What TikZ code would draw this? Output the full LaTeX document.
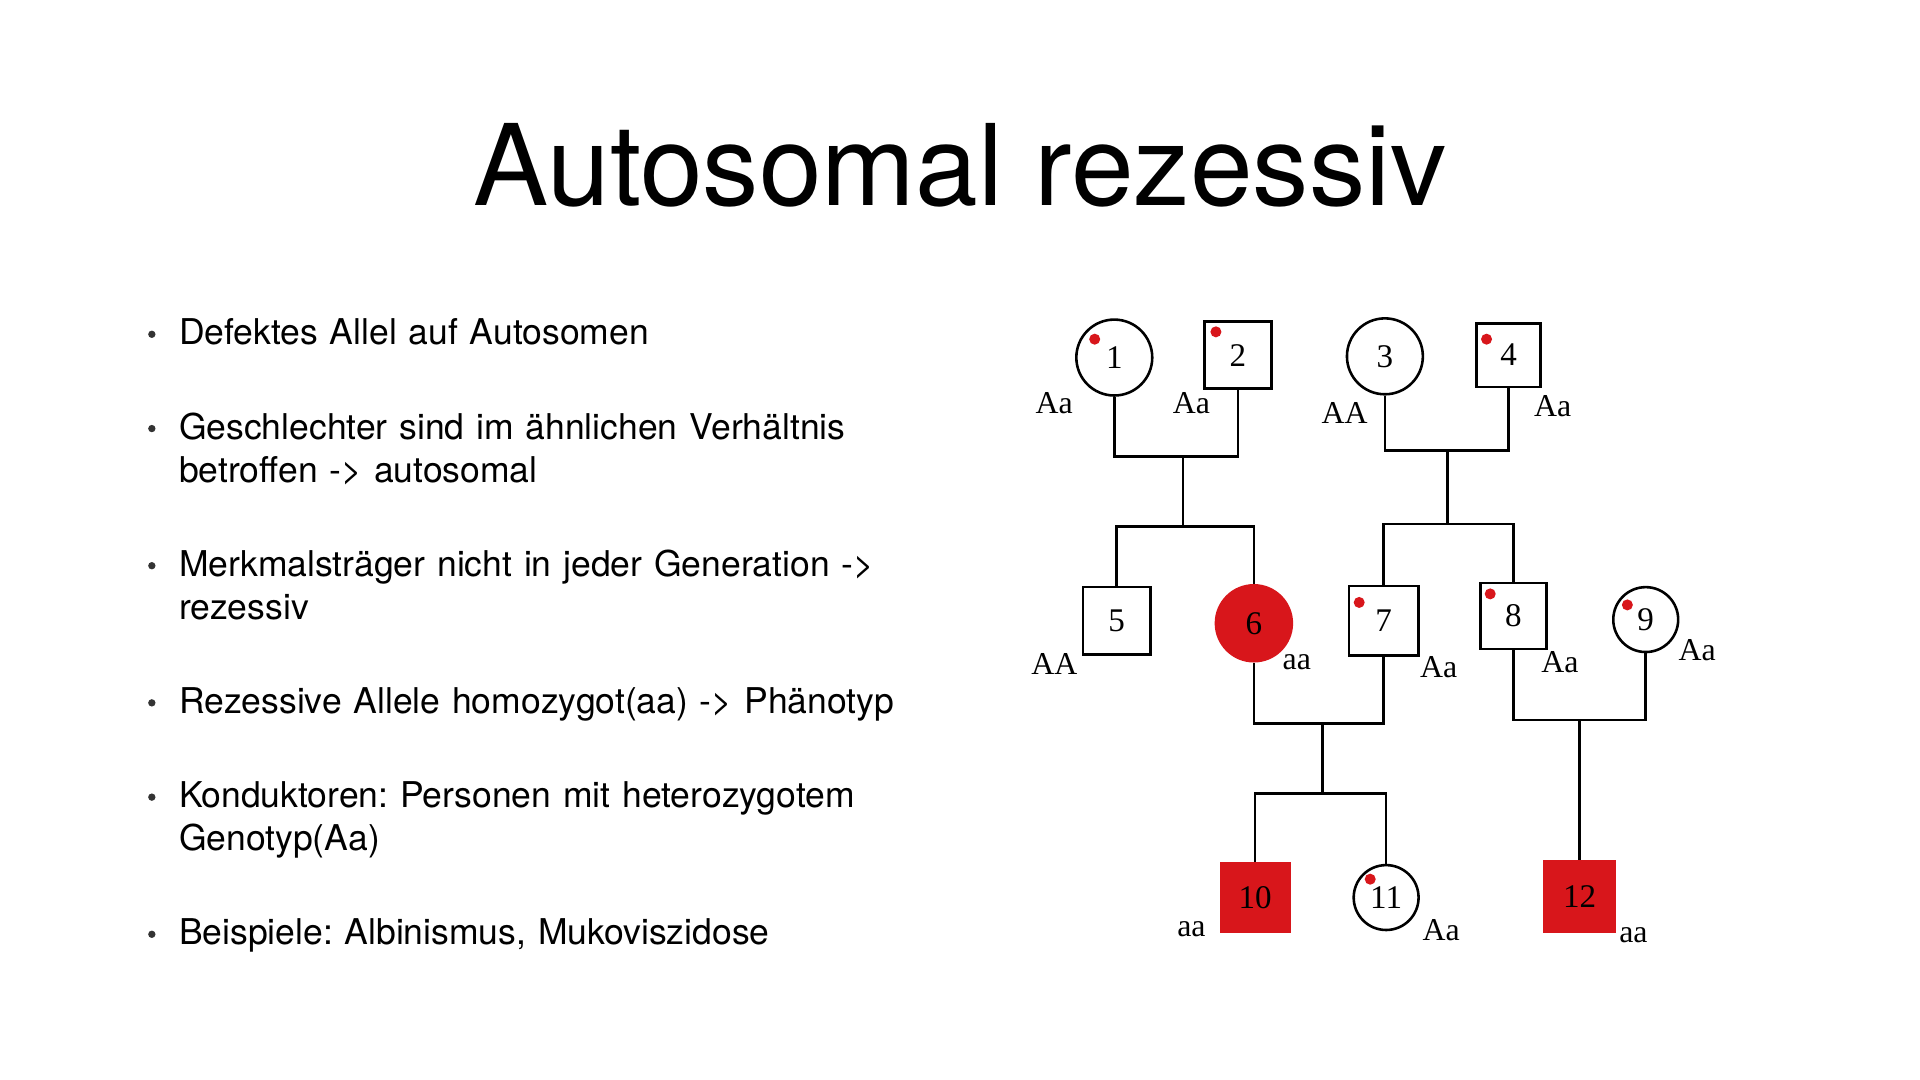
\documentclass[tikz,border=0pt]{standalone}
\usepackage{fontspec}
\setmainfont{Liberation Serif}
\newfontfamily\hel{TeX Gyre Heros}
\definecolor{aff}{HTML}{D8161B}
\begin{document}
\begin{tikzpicture}[x=1pt,y=-1pt,
  fem/.style={circle,draw,line width=2.1pt,minimum size=#1,inner sep=0pt,font=\fontsize{27}{27}\selectfont},
  mal/.style={rectangle,draw,line width=2.1pt,minimum size=#1,inner sep=0pt,font=\fontsize{27}{27}\selectfont},
  filled/.style={fill=aff,draw=aff},
  gt/.style={font=\fontsize{26}{26}\selectfont},
  dotc/.style={circle,fill=aff,inner sep=0pt,minimum size=9pt},
  ln/.style={line width=2.1pt},
  bul/.style={anchor=north west,align=left,font=\hel\frenchspacing\fontsize{29}{35}\selectfont,text width=660pt,inner sep=0pt}]
\useasboundingbox[fill=white] (0,0) rectangle (1568,882);
\node[font=\hel\fontsize{92}{92}\selectfont] (title) at (784,135) {Autosomal rezessiv};
\foreach \y/\t [count=\i] in {260/Defektes Allel auf Autosomen,
 337/{Geschlechter sind im ähnlichen Verhältnis\\betroffen -> autosomal},
 449/{Merkmalsträger nicht in jeder Generation ->\\rezessiv},
 561/{Rezessive Allele homozygot(aa) -> Phänotyp},
 638/{Konduktoren: Personen mit heterozygotem\\Genotyp(Aa)},
 750/{Beispiele: Albinismus, Mukoviszidose}}{
  \node[bul] (b\i) at (146,\y) {\t};
  \node[circle,fill=black!80,inner sep=0pt,minimum size=6pt] (d\i) at (124,\y+13) {};
}
% persons
\node[fem=62pt] (p1) at (910,292) {1};
\node[mal=55pt] (p2) at (1011,290) {2};
\node[fem=62pt] (p3) at (1131,291) {3};
\node[mal=52pt] (p4) at (1232,290) {4};
\node[mal=55pt] (p5) at (912,507) {5};
\node[fem=62pt,filled] (p6) at (1024,509) {6};
\node[mal=57pt] (p7) at (1130,507) {7};
\node[mal=54pt] (p8) at (1236,503) {8};
\node[fem=53pt] (p9) at (1344,506) {9};
\node[mal=56pt,filled] (p10) at (1025,733) {10};
\node[fem=53pt] (p11) at (1132,733) {11};
\node[mal=57pt,filled] (p12) at (1290,732) {12};
% dots
\foreach \n/\x/\y in {1/894/277,2/993/271,4/1214/277,7/1110/492,8/1217/485,9/1329/494,11/1119/718}
  \node[dotc] (dot\n) at (\x,\y) {};
% genotypes
\foreach \n/\x/\y/\t in {1/861/329/Aa,2/973/329/Aa,3/1098/337/AA,4/1268/332/Aa,5/861/542/AA,6/1059/541/aa,7/1175/545/Aa,8/1274/541/Aa,9/1386/531/Aa,10/973/759/aa,11/1177/760/Aa,12/1334/764/aa}
  \node[gt] (g\n) at (\x,\y) {\t};
% lines
\coordinate (m12) at (966,373);
\coordinate (s12) at (966,430);
\draw[ln] (p1.south) |- (m12) -| (p2.south);
\draw[ln] (m12) -- (s12);
\draw[ln] (p5.north) |- (s12) -| (p6.north);
\coordinate (m34) at (1182,368);
\coordinate (s34) at (1182,428);
\draw[ln] (p3.south) |- (m34) -| (p4.south);
\draw[ln] (m34) -- (s34);
\draw[ln] (p7.north) |- (s34) -| (p8.north);
\coordinate (m67) at (1080,591);
\coordinate (s67) at (1080,648);
\draw[ln] (p6.south) |- (m67) -| (p7.south);
\draw[ln] (m67) -- (s67);
\draw[ln] (p10.north) |- (s67) -| (p11.north);
\coordinate (m89) at (1290,588);
\draw[ln] (p8.south) |- (m89) -| (p9.south);
\draw[ln] (m89) -- (p12.north);
\end{tikzpicture}
\end{document}
